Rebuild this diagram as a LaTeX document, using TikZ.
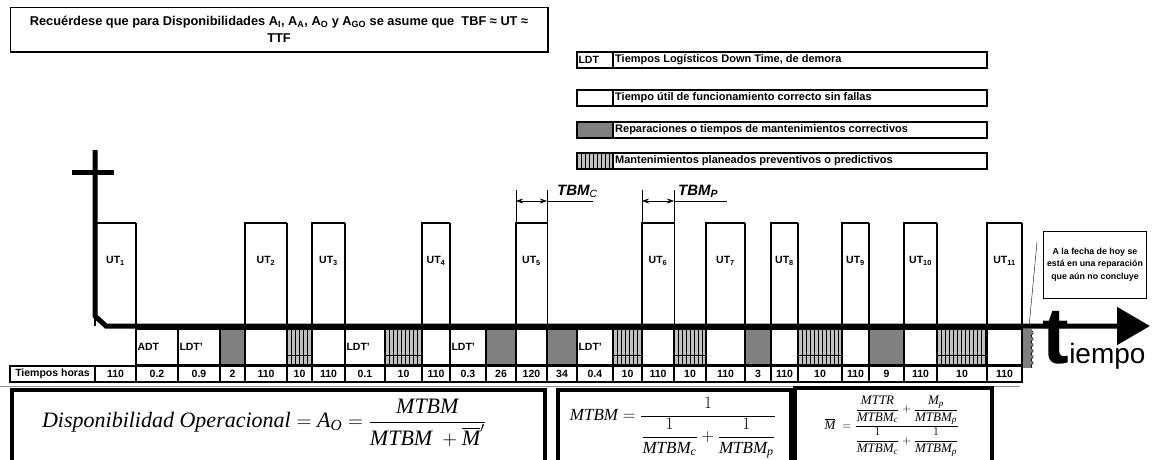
\documentclass[tikz,border=0pt]{standalone}
\usepackage{amsmath}
\usepackage{fontspec}
\setmainfont{Liberation Serif}
\setsansfont{Liberation Sans}
\usetikzlibrary{arrows.meta,positioning,calc,decorations.pathmorphing}
\definecolor{repgray}{RGB}{128,128,128}
\definecolor{hatchgray}{RGB}{192,192,192}
\definecolor{rulegray}{RGB}{150,150,150}

\begin{document}
\begin{tikzpicture}[
  x=1pt,y=-1pt,>={Stealth[length=7pt,width=5pt]},
  font=\sffamily\bfseries,
  ut/.style={line width=2.6pt},
  axis/.style={line width=5pt},
  cell/.style={draw,line width=2.6pt,anchor=north west,outer sep=0pt,minimum height=36pt,
    inner xsep=1.5pt,inner ysep=0pt,align=left,font=\sffamily\bfseries\fontsize{10.5}{12}\selectfont},
  cellx/.style={draw=none},
  cellw/.style={fill=white},
  cellg/.style={fill=repgray},
  cellh/.style={fill=hatchgray,path picture={
    \foreach \k in {1,...,13}{\draw[line width=0.7pt]([xshift=\k*4pt]path picture bounding box.north west)--([xshift=\k*4pt]path picture bounding box.south west);}
    \draw[line width=0.7pt]([yshift=-26pt]path picture bounding box.north west)--([yshift=-26pt]path picture bounding box.north east);}},
  num/.style={draw,line width=2pt,anchor=north west,outer sep=0pt,minimum height=16pt,inner sep=0pt,
    font=\sffamily\bfseries\fontsize{10.5}{11}\selectfont},
  utlab/.style={font=\sffamily\bfseries\fontsize{10.5}{12}\selectfont},
  legbox/.style={draw,line width=2.6pt,anchor=north west,outer sep=0pt,minimum width=410pt,minimum height=16pt},
  legtxt/.style={inner sep=0pt,font=\sffamily\bfseries\fontsize{11}{12}\selectfont},
  tbm/.style={inner sep=0pt,anchor=base west,font=\sffamily\bfseries\itshape\fontsize{15}{17}\selectfont},
  fbox/.style={draw,line width=3.5pt,anchor=north west,outer sep=0pt,minimum height=76pt}]
  \useasboundingbox(0,0)rectangle(1154,459);

  % reminder and legend
  \node[draw,line width=1pt,minimum width=538pt,minimum height=45pt,outer sep=0pt,align=center,
    font=\sffamily\bfseries\fontsize{12.8}{17}\selectfont](remind) at(279,29.5)
    {Recuérdese que para Disponibilidades A\textsubscript{I}, A\textsubscript{A}, A\textsubscript{O} y A\textsubscript{GO} se asume que\ \ TBF ≈ UT ≈\\TTF};
  \draw[line width=2.2pt](remind.south west)-|(remind.north east);
  \foreach \y/\sw/\swl/\txt [count=\j] in {
    52/cellw/LDT/{Tiempos Logísticos Down Time, de demora},
    90/cellw//{Tiempo útil de funcionamiento correcto sin fallas},
    122/cellg//{Reparaciones o tiempos de mantenimientos correctivos},
    153/cellh//{Mantenimientos planeados preventivos o predictivos}}{
    \node[legbox](lg\j) at(577,\y){};
    \node[cell,\sw,minimum width=36pt,minimum height=16pt,text width=33pt](sw\j) at(577,\y){\swl};
    \node[legtxt,right=2pt of sw\j.east](lt\j){\txt};
  }

  % up-time boxes
  \foreach \xa/\xb/\k/\rs in {95/136/1/ut,245/287/2/ut,312/345/3/ut,422/450/4/ut,516/547/5/thin,
    642/674/6/thin,706/745/7/ut,771/798/8/ut,842/869/9/ut,904/937/10/ut,987/1022/11/ut}{
    \draw[ut](\xa,326)|-(\xb,223);
    \draw[\rs](\xb,223)--(\xb,326);
    \node[utlab](u\k) at({(\xa+\xb)/2},261){UT\textsubscript{\k}};
  }

  % cells and hours
  \node[num,minimum width=85pt](hrs) at(10,366){Tiempos horas};
  \foreach \xa/\xb/\kind/\lab/\hrs [count=\i] in {
    95/136/cellx//110, 136/178/cellw/ADT/0.2, 178/220/cellw/LDT'/0.9, 220/245/cellg//2,
    245/287/cellw//110, 287/312/cellh//10, 312/345/cellw//110, 345/385/cellw/LDT'/0.1,
    385/422/cellh//10, 422/450/cellw//110, 450/486/cellw/LDT'/0.3, 486/516/cellg//26,
    516/547/cellw//120, 547/577/cellg//34, 577/613/cellw/LDT'/0.4, 613/642/cellh//10,
    642/674/cellw//110, 674/706/cellh//10, 706/745/cellw//110, 745/771/cellg//3,
    771/798/cellw//110, 798/842/cellh//10, 842/869/cellw//110, 869/904/cellg//9,
    904/937/cellw//110, 937/987/cellh//10, 987/1022/cellw//110}{
    \pgfmathsetmacro\w{\xb-\xa}
    \pgfmathsetmacro\tw{\xb-\xa-3}
    \node[cell,\kind,minimum width=\w pt,text width=\tw pt](c\i) at(\xa,329){\lab};
    \node[num,minimum width=\w pt](n\i) at(\xa,366){\hrs};
  }
  \fill[repgray](1023,329)rectangle(1032,368);
  \draw[line width=0.6pt,decorate,decoration={snake,amplitude=1.2pt,segment length=6pt}](1032,331)--(1032,368);

  % axes
  \draw[axis,-{Triangle[length=33pt,width=37pt]}](95,150)--(95,316)--(106,326)--(1150,326);
  \draw[axis](72,172)--(114,172);
  \node[anchor=base west,inner sep=0pt,font=\sffamily\bfseries\fontsize{80}{80}\selectfont](tt) at(1042,363){t};
  \node[anchor=base west,inner sep=0pt,font=\sffamily\mdseries\fontsize{28}{28}\selectfont](ti) at(tt.base east){iempo};

  % TBM marks
  \draw[thin](516,190)--(516,223);\draw[thin](547,190)--(547,326);
  \draw[thin](642,190)--(642,223);\draw[thin](674,190)--(674,326);
  \coordinate(tc1) at(516,201);\coordinate(tc2) at(547,201);\coordinate(tc3) at(593,201);
  \coordinate(tp1) at(642,201);\coordinate(tp2) at(674,201);\coordinate(tp3) at(727,201);
  \draw[thin,<->](tc1)--(tc2);\draw[thin](tc2)--(tc3);
  \draw[thin,<->](tp1)--(tp2);\draw[thin](tp2)--(tp3);
  \node[tbm](tbmc) at(557,195){TBM\textsubscript{\mdseries C}};
  \node[tbm](tbmp) at(678,195){TBM\textsubscript{P}};

  % note
  \node[draw,line width=1pt,minimum width=102pt,minimum height=67pt,outer sep=0pt,align=center,
    font=\sffamily\bfseries\fontsize{8.8}{12.5}\selectfont](note) at(1095,264.5)
    {A la fecha de hoy se\\está en una reparación\\que aún no concluye};
  \coordinate(nt) at(1037,242);\coordinate(now) at(1029,327);
  \draw[thin](nt)--(now);

  % formulas
  \draw[rulegray,line width=1pt](0,386)--(1020,386);
  \node[fbox,minimum width=533pt](fb1) at(12,390){};
  \node[fbox,minimum width=233pt](fb2) at(558,390){};
  \node[fbox,minimum width=197pt](fb3) at(795,388){};
  \node[font=\rmfamily\mdseries\fontsize{22}{26}\selectfont](ao) at(264,423)
    {$\mathit{Disponibilidad\ Operacional}=\mathit{A}_{\mathit{O}}=\dfrac{\mathit{MTBM}}{\mathit{MTBM}\ +\overline{\mathit{M}}^{\prime}}$};
  \node[font=\rmfamily\mdseries\fontsize{17}{20}\selectfont](mtbm) at(673,428)
    {$\mathit{MTBM}=\dfrac{1}{\dfrac{1}{\mathit{MTBM}_{\mathit{c}}}+\dfrac{1}{\mathit{MTBM}_{\mathit{p}}}}$};
  \node[font=\rmfamily\mdseries\fontsize{13}{15}\selectfont](mbar) at(892,426)
    {$\overline{\mathit{M}}\ =\dfrac{\dfrac{\mathit{MTTR}}{\mathit{MTBM}_{\mathit{c}}}+\dfrac{\mathit{M}_{\mathit{p}}}{\mathit{MTBM}_{\mathit{p}}}}{\dfrac{1}{\mathit{MTBM}_{\mathit{c}}}+\dfrac{1}{\mathit{MTBM}_{\mathit{p}}}}$};
\end{tikzpicture}
\end{document}
